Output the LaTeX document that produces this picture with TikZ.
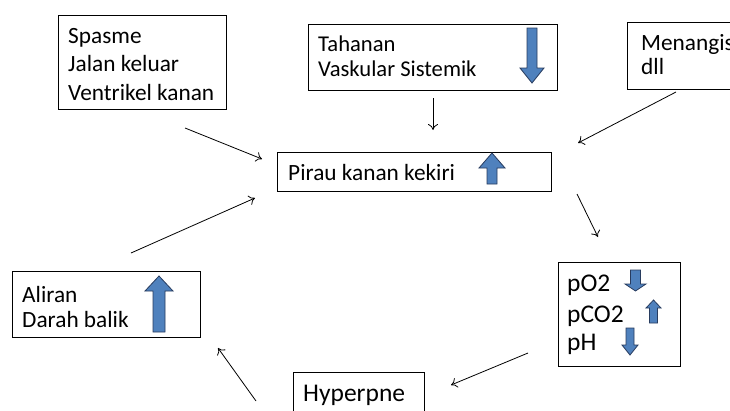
\documentclass[tikz,border=0pt]{standalone}
\usepackage{fontspec}
\setmainfont{Carlito}
\usetikzlibrary{arrows.meta}
\definecolor{arrfill}{RGB}{79,129,189}
\definecolor{arrline}{RGB}{40,60,95}
\newcommand{\blockup}[6]{% cx, top(tip), bottom, shaft half width, head half width, head length
  \draw[barrow] (#1-#4,#3) -- (#1-#4,#2+#6) -- (#1-#5,#2+#6) -- (#1,#2) -- (#1+#5,#2+#6) -- (#1+#4,#2+#6) -- (#1+#4,#3) -- cycle;}
\newcommand{\blockdown}[6]{% cx, top, bottom(tip), shaft half width, head half width, head length
  \draw[barrow] (#1-#4,#2) -- (#1-#4,#3-#6) -- (#1-#5,#3-#6) -- (#1,#3) -- (#1+#5,#3-#6) -- (#1+#4,#3-#6) -- (#1+#4,#2) -- cycle;}
\begin{document}
\begin{tikzpicture}[x=1pt,y=-1pt,
  box/.style={draw=black, line width=0.9pt, rectangle, inner sep=0pt, anchor=north west},
  txt/.style={anchor=base west, inner sep=0pt, font=\fontsize{22.6}{27}\selectfont},
  txtb/.style={anchor=base west, inner sep=0pt, font=\fontsize{23.3}{27}\selectfont},
  gastxt/.style={anchor=base west, inner sep=0pt, font=\fontsize{25.5}{29}\selectfont},
  bigtxt/.style={anchor=base west, inner sep=0pt, font=\fontsize{25.5}{29}\selectfont},
  conn/.style={line width=0.8pt, -{To[length=6pt,width=10pt]}},
  barrow/.style={fill=arrfill, draw=arrline, line width=0.8pt, line join=miter}]
\useasboundingbox (0,0) rectangle (730,410);
\clip (0,0) rectangle (730,410);
\fill[white] (0,0) rectangle (730,410);

% Spasme box
\node[box, minimum width=168pt, minimum height=94pt] (spasme) at (58,15) {};
\node[txtb] (sp1) at (68,43) {Spasme};
\node[txtb] (sp2) at (68,71.5) {Jalan keluar};
\node[txtb] (sp3) at (68,100) {Ventrikel kanan};

% Tahanan box
\node[box, minimum width=249pt, minimum height=66pt] (tahanan) at (308,24) {};
\node[txt] (th1) at (318,51) {Tahanan};
\node[txt] (th2) at (318,76) {Vaskular Sistemik};
\blockdown{532}{28}{83}{5}{12}{15}

% Menangis box
\node[box, minimum width=130pt, minimum height=67pt] (menangis) at (627,22) {};
\node[txtb] (mn1) at (641,50) {Menangis};
\node[txtb] (mn2) at (641,74) {dll};

% Pirau box
\node[box, minimum width=274pt, minimum height=39pt] (pirau) at (277,152) {};
\node[txtb] (pr1) at (288,180) {Pirau kanan kekiri};
\blockup{492}{153}{184}{5}{13}{15}

% pO2 box
\node[box, minimum width=122pt, minimum height=104pt] (gas) at (558,262) {};
\node[gastxt] (g1) at (567,291) {pO2};
\node[gastxt] (g2) at (567,322) {pCO2};
\node[gastxt] (g3) at (567,350) {pH};
\blockdown{635.5}{270}{291}{5}{10.5}{7}
\blockup{653.5}{300}{323}{4}{7.5}{8}
\blockdown{630}{328}{355}{4}{8}{10}

% Aliran box
\node[box, minimum width=188pt, minimum height=66pt] (aliran) at (12,271) {};
\node[txtb] (al1) at (22,302) {Aliran};
\node[txtb] (al2) at (22,327) {Darah balik};
\blockup{159}{276}{332}{6}{14}{15}

% Hyperpne box
\node[box, minimum width=131pt, minimum height=60pt] (hyper) at (293,372) {};
\node[bigtxt] (hy1) at (303,401) {Hyperpne};

% connector end points
\coordinate (c1s) at (185,128);
\coordinate (c1e) at (262,159);
\coordinate (c2s) at (433,98);
\coordinate (c2e) at (433,130);
\coordinate (c3s) at (676,92);
\coordinate (c3e) at (578,143);
\coordinate (c4s) at (577,194);
\coordinate (c4e) at (598,237);
\coordinate (c5s) at (528,353);
\coordinate (c5e) at (451,385);
\coordinate (c6s) at (256,401);
\coordinate (c6e) at (218,348);
\coordinate (c7s) at (131,253);
\coordinate (c7e) at (255,198);

\draw[conn] (c1s) -- (c1e);
\draw[conn] (c2s) -- (c2e);
\draw[conn] (c3s) -- (c3e);
\draw[conn] (c4s) -- (c4e);
\draw[conn] (c5s) -- (c5e);
\draw[conn] (c6s) -- (c6e);
\draw[conn] (c7s) -- (c7e);
\end{tikzpicture}
\end{document}
